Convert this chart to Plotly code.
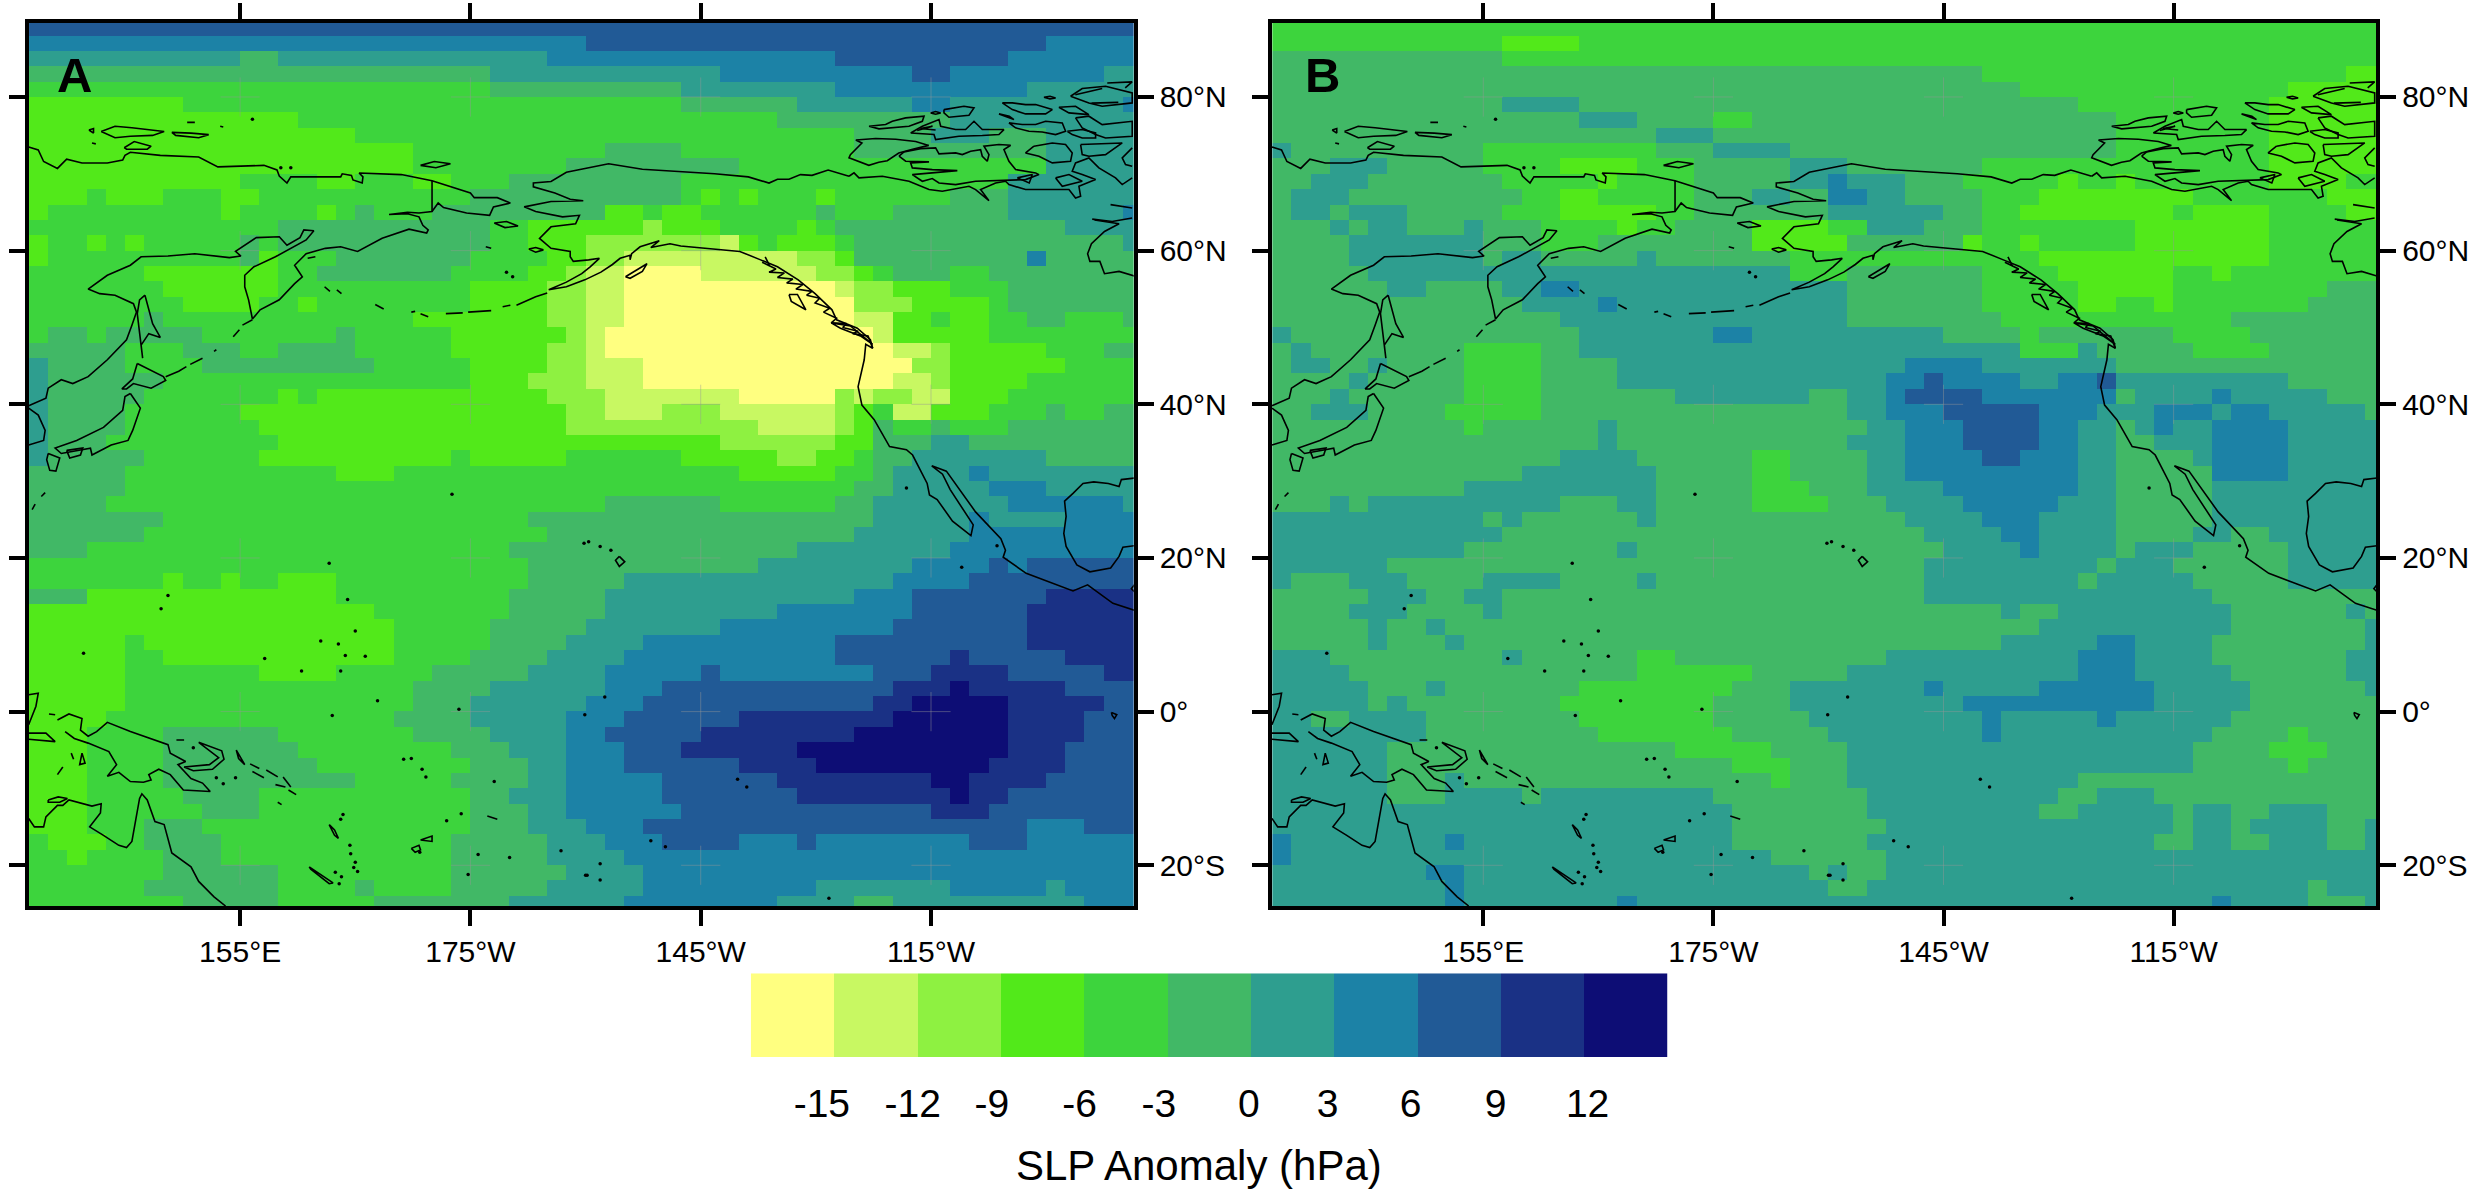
import plotly.graph_objects as go

W, H = 2469, 1197
FONT = "Liberation Sans"

# colour classes of the SLP anomaly (hPa), lowest class first
class_colors = ["#FFFF80", "#C8F862", "#8EF141", "#52E91A", "#3DD43D", "#41B866",
                "#2E9E8F", "#1C82A6", "#215A96", "#1A3185", "#0D0D75"]
class_mids = [-16.5, -13.5, -10.5, -7.5, -4.5, -1.5, 1.5, 4.5, 7.5, 10.5, 13.5]
bar_edges = [-18, -15, -12, -9, -6, -3, 0, 3, 6, 9, 12, 15]
bar_labels = ["-15", "-12", "-9", "-6", "-3", "0", "3", "6", "9", "12"]
bar_label_pos = [-15.44, -12.17, -9.32, -6.16, -3.31, -0.07, 2.77, 5.76, 8.82, 12.13]

# grid of the reanalysis: 2.5 deg lon x 2 deg lat
lon_edges = [127.5 + 2.5 * i for i in range(59)]
lat_edges = [-26 + 2 * i for i in range(59)]

lon_ticks = [155, 185, 215, 245]
lon_labels = ["155°E", "175°W", "145°W", "115°W"]
lat_ticks = [80, 60, 40, 20, 0, -20]
lat_labels = ["80°N", "60°N", "40°N", "20°N", "0°", "20°S"]

# rows from north to south, each "start column:class" run
panel_a = [
    "0:8",
    "0:7 29:8 53:7",
    "0:6 11:5 13:6 27:7 42:8 51:7",
    "0:5 24:6 36:7 46:8 48:7 56:6",
    "0:4 24:5 34:6 42:7 52:6",
    "0:3 8:4 34:5 40:6 46:7 48:6 57:7",
    "0:3 14:4 39:5 48:6",
    "0:3 17:4 43:5 47:6 50:5 53:6",
    "0:3 20:4 30:5 34:4 43:5 53:6",
    "0:3 20:4 28:5 37:4 53:6",
    "0:3 11:4 15:3 17:4 20:3 22:4 25:5 34:4 51:6",
    "0:3 3:4 4:3 7:4 10:3 12:4 23:5 34:4 35:3 36:4 37:3 38:4 41:3 42:4 48:5 51:6",
    "0:3 1:4 10:3 11:4 15:3 16:4 17:5 18:4 21:5 30:3 32:4 33:3 35:4 41:5 42:4 45:5 51:6 57:7",
    "0:4 13:5 24:4 26:3 32:2 33:3 36:4 40:3 41:4 42:5 54:6",
    "0:3 1:4 3:3 4:4 5:3 6:4 11:5 12:4 13:5 24:4 26:3 29:2 36:1 37:3 38:4 39:3 42:4 43:5 57:6",
    "0:3 1:4 11:5 12:3 13:4 16:5 23:4 27:3 29:2 31:1 40:2 42:3 43:5 52:7 53:5",
    "0:4 6:3 13:4 15:5 22:4 26:3 28:2 29:1 31:0 35:1 41:2 43:3 44:4 45:5 48:4 50:5",
    "0:4 7:3 13:4 23:3 27:2 29:1 31:0 42:1 43:2 45:3 48:4 51:5",
    "0:4 8:3 12:4 14:3 15:4 23:3 27:2 29:1 31:0 43:2 46:3 50:4 51:5",
    "0:4 6:5 7:4 20:3 27:2 29:1 31:0 43:1 45:3 47:4 48:3 50:4 52:5 54:4 57:5",
    "0:4 1:5 3:4 4:5 9:4 16:5 17:4 22:3 28:2 29:1 30:0 44:1 45:3 50:4",
    "0:5 5:4 8:5 11:4 13:5 17:4 22:3 27:2 29:1 30:0 45:1 47:2 48:3 53:4 56:5",
    "0:6 1:5 5:4 9:5 18:4 23:3 27:2 29:1 32:0 46:2 48:3 54:4",
    "0:6 1:5 7:4 23:3 26:2 29:1 32:0 45:1 47:2 48:3 52:4",
    "0:6 1:5 6:4 13:3 14:4 15:3 27:2 30:1 37:0 42:2 43:1 44:2 46:1 48:3 51:4",
    "0:6 1:5 5:4 11:3 28:2 30:1 33:2 36:1 42:2 43:3 44:4 45:1 47:3 50:4 53:5 54:4 56:5",
    "0:6 1:5 5:4 12:3 28:2 38:1 42:2 43:3 44:5 45:4 47:5 48:4 51:5",
    "0:6 1:5 4:4 13:3 36:2 42:3 44:5 47:6 49:5",
    "0:6 1:5 6:4 12:3 22:4 23:3 28:4 34:3 39:2 41:3 43:4 44:5 46:6 53:5",
    "0:5 5:4 16:3 19:4 37:3 42:4 44:5 45:6 49:7 50:6",
    "0:5 5:4 43:5 45:6 50:7 53:6",
    "0:5 4:4 30:5 36:4 42:5 44:6 51:7 57:6",
    "0:5 7:4 26:5 44:6 49:7 50:6 54:7",
    "0:5 6:4 27:5 43:6 49:7",
    "0:5 3:4 25:5 40:6 48:7",
    "0:4 26:5 38:6 46:7 50:8 51:7 52:8",
    "0:4 7:3 8:4 10:3 11:4 13:3 16:4 26:5 31:6 45:7 49:8",
    "0:5 3:3 16:4 25:5 30:6 43:7 46:8 53:9",
    "0:3 18:4 25:5 30:6 39:7 46:8 52:9",
    "0:3 19:4 24:5 29:6 36:7 45:8 52:9",
    "0:3 5:4 6:3 19:4 24:5 28:6 32:7 42:8 52:9",
    "0:3 5:4 7:3 19:4 23:5 27:6 31:7 42:8 48:9 49:8 54:9",
    "0:3 5:4 12:3 16:4 21:5 26:6 30:7 35:8 36:7 44:8 47:9 51:8 56:9",
    "0:3 5:4 20:5 24:6 30:7 33:8 45:9 48:10 49:9 54:8",
    "0:3 5:4 20:5 23:6 29:7 32:8 44:9 46:10 51:9 56:8",
    "0:3 4:4 19:5 23:6 28:7 31:8 37:9 45:10 51:9 55:8",
    "0:3 3:4 7:5 13:4 20:5 24:6 28:7 30:8 35:9 43:10 51:9 55:8",
    "0:3 3:4 7:5 14:4 22:5 25:6 28:7 31:8 34:9 40:10 51:9 54:8",
    "0:3 3:4 7:5 15:4 23:5 26:6 28:7 31:8 37:9 41:10 50:9 54:8",
    "0:3 3:4 7:5 17:4 22:5 26:6 28:7 33:8 39:9 47:10 49:9 53:8",
    "0:3 3:4 8:5 12:4 23:5 25:6 28:7 33:8 40:9 48:10 49:9 51:8",
    "0:3 3:4 9:5 12:4 23:5 26:6 28:7 34:8 47:9 50:8",
    "0:3 3:4 6:5 9:4 23:5 26:6 29:7 32:8 52:7 55:8",
    "0:4 1:3 4:4 6:5 10:4 22:5 27:6 30:7 33:8 37:7 40:8 41:7 49:8 52:7",
    "0:4 2:3 3:4 7:5 10:4 22:5 27:6 31:7",
    "0:4 7:5 13:4 22:5 28:6 32:7",
    "0:4 6:5 13:4 17:5 18:4 22:5 27:6 32:7 41:6 48:7 53:6 54:7",
    "0:4 8:5 13:4 18:5 25:6 31:7 39:6 43:5 45:6 55:7",
]

panel_b = [
    "0:4",
    "0:4 12:3 16:4",
    "0:5 12:4",
    "0:5 37:4 56:3",
    "0:5 39:4 53:3",
    "0:5 12:6 16:5 42:4 52:3",
    "0:5 16:6 19:5 23:4 25:5 44:4 52:3",
    "0:5 20:6 23:5 44:4 52:3",
    "0:6 1:5 11:4 20:5 23:6 27:5 44:4 52:3",
    "0:5 3:6 6:5 11:4 15:3 19:4 22:5 27:6 30:5 37:4 52:3",
    "0:5 2:6 5:5 12:4 17:3 18:4 22:5 27:6 29:7 30:6 33:5 36:4 41:3 42:4 44:3 45:4 52:3 56:4",
    "0:5 1:6 4:5 13:4 15:3 17:4 22:5 25:6 27:5 29:7 31:6 33:5 37:4 40:3 48:4 55:3",
    "0:5 1:6 3:5 4:6 7:5 12:4 15:3 20:4 22:5 29:6 35:5 37:4 39:3 47:4 48:3 52:4 56:3",
    "0:5 3:6 4:5 5:6 7:5 10:6 11:5 14:4 18:3 19:4 21:5 25:3 29:4 31:6 34:5 37:4 45:3 52:4",
    "0:5 4:6 11:5 14:4 17:5 25:3 30:5 36:3 37:4 39:3 40:4 45:3 52:4",
    "0:5 4:6 11:5 12:6 14:5 19:6 20:5 27:4 40:3 52:4",
    "0:5 5:6 27:4 30:5 37:4 41:3 47:4 49:3 50:4",
    "0:5 6:6 8:5 12:6 14:7 16:6 30:5 37:4 42:3 47:4 55:5",
    "0:5 13:6 17:7 18:6 30:5 37:4 42:3 44:4 46:3 47:4 54:5",
    "0:5 15:6 30:5 38:4 50:5",
    "0:6 1:5 16:6 23:7 25:6 35:5 39:4 40:5 47:4 51:5",
    "0:5 1:6 2:5 10:4 14:5 16:6 39:4 42:6 43:5 48:4 52:5",
    "0:5 1:6 3:5 5:6 6:5 10:4 14:5 18:6 33:7 37:6 44:5",
    "0:5 4:6 5:5 10:4 14:5 18:6 32:7 34:8 35:7 39:6 41:7 43:8 44:6 53:5",
    "0:5 3:6 4:5 10:4 14:5 21:6 28:5 30:6 32:7 33:8 37:7 44:5 45:6 49:7 50:6 55:5",
    "0:5 2:6 5:5 9:4 14:5 30:6 32:7 35:8 40:7 43:6 46:7 49:6 50:7 52:6 57:5",
    "0:5 10:4 11:5 17:6 18:5 31:6 33:7 36:8 40:7 42:6 44:5 45:6 46:7 47:6 49:7 53:6",
    "0:5 17:6 18:5 30:6 33:7 36:8 40:7 42:6 44:5 46:6 49:7 53:6",
    "0:5 15:6 19:5 25:4 27:5 31:6 33:7 37:8 39:7 42:6 44:5 48:6 49:7 53:6",
    "0:5 13:6 20:5 25:4 27:5 31:6 33:7 42:6 44:5 49:7 53:6",
    "0:5 10:6 20:5 25:4 28:5 31:6 35:7 42:6 44:5 49:6",
    "0:5 3:6 4:5 5:6 15:5 18:6 20:5 25:4 29:5 32:6 36:7 41:6 44:5 49:6",
    "0:6 11:5 12:6 13:5 19:6 20:5 33:6 37:7 40:6 44:5 49:6",
    "0:6 12:5 34:6 38:7 40:6 44:5 48:6 50:5 52:6",
    "0:6 10:5 18:6 19:5 35:6 39:7 40:6 44:5 45:6 48:5 53:6",
    "0:6 6:5 34:6 43:5 44:6 47:5 53:6",
    "0:6 1:5 4:6 7:5 11:6 15:5 19:6 20:5 34:6 42:5 43:6 48:5 53:6",
    "0:5 5:6 8:5 10:6 12:5 34:6 49:5",
    "0:5 4:6 7:5 11:6 12:5 38:6 39:5 41:6 50:5 56:6 57:5",
    "0:5 5:6 6:5 8:6 9:5 40:6 50:5 57:6",
    "0:5 5:6 6:5 9:6 10:5 38:6 43:7 45:6 49:5 57:6",
    "0:6 3:5 12:6 13:5 19:4 21:5 32:6 42:7 45:6 49:5 56:6",
    "0:6 4:5 19:4 25:5 30:6 42:7 45:6 50:5 56:6",
    "0:6 5:5 8:6 9:5 16:4 24:5 27:6 34:7 35:6 40:7 46:6 51:5 57:6",
    "0:6 5:5 6:6 7:5 15:4 23:5 27:6 36:7 46:6 51:5",
    "0:6 2:5 4:6 8:5 16:4 23:5 28:6 37:7 38:6 43:7 44:6 50:5",
    "0:6 8:5 17:4 24:5 29:6 37:7 38:6 49:5 53:4 54:5",
    "0:6 6:5 21:4 26:5 30:6 48:5 52:4 55:5",
    "0:6 6:5 24:4 27:5 30:6 48:5 53:4 54:5",
    "0:6 6:5 9:6 10:5 26:4 27:5 30:6 42:5",
    "0:6 6:5 9:6 13:5 14:6 23:5 31:6 41:5 43:6 46:5",
    "0:6 24:5 31:6 40:5 42:6 47:5 48:6 50:5 52:6 55:5",
    "0:6 24:5 32:6 47:5 48:6 50:5 51:6 55:5 57:6",
    "0:7 1:6 9:7 10:6 24:5 31:6 46:5 48:6 50:5 52:6 55:5 57:6",
    "0:7 1:6 26:5 32:6",
    "0:6 8:7 10:6 28:5 29:6 30:5 32:6",
    "0:6 9:7 10:6 29:5 31:6 54:5 55:6",
    "0:6 9:7 10:6 18:7 19:6 49:7 50:6 54:5 57:6",
]

# coastlines, (lon, lat) with lon in 0-360
siberia = [(127.45, 73.5), (128.7, 73.1), (129.4, 71.6), (131.2, 70.7), (132.4, 71.9), (134.4, 71.4),
           (137.7, 71.4), (139.7, 71.8), (140, 72.4), (140.7, 72.8), (144.6, 72.4), (149.6, 72.2),
           (152.1, 70.9), (158.1, 71.1), (159.8, 70.5), (160.1, 69.7), (161.1, 68.8), (161.6, 69.6),
           (168.1, 69.6), (168.3, 70), (169.5, 69.8), (169.7, 69.2), (170.9, 68.8), (171, 69.6),
           (170.5, 70.1), (176, 69.9), (180, 69.1), (185, 67.5), (185.5, 66.9), (188.5, 66.9),
           (190.2, 66.2), (188, 65.7), (187.5, 64.6), (184.5, 64.9), (181.5, 65.6), (180.8, 66.2),
           (180, 65.1), (178.3, 64.9), (176.8, 65), (174.4, 64.7), (176.8, 64.8), (178.3, 64.4),
           (178.8, 63.3), (179.5, 62.7), (179.3, 62.3), (177, 62.8), (173.5, 61.6), (170.3, 59.9),
           (168.1, 60.5), (166.1, 60.3), (163.6, 59.6), (162.1, 58.1), (163.1, 56.6), (162.1, 55.7),
           (160.1, 53.6), (157.6, 52.3), (156.6, 51.1), (156.1, 53.6), (155.6, 55.3), (155.6, 56.8),
           (156.8, 57.9), (159.6, 59.2), (163.6, 61.4), (164.6, 62.6), (163.3, 62.7), (162.8, 61.7),
           (161.1, 60.7), (160.1, 61.8), (157.1, 61.7), (154.4, 59.9), (155.1, 59.3), (153.6, 59.1),
           (149.1, 59.6), (145.6, 59.3), (142.1, 59.2), (140.7, 58.1), (137.7, 56.8), (135.2, 55),
           (136.7, 54.4), (138.7, 54.2), (141.1, 53.1), (141.5, 52), (140.9, 50.3), (140.2, 48.4),
           (137.7, 45.8), (135.2, 43.6), (133.2, 42.7), (131.7, 43.2), (130, 42.1), (129.7, 40.8),
           (127.45, 39.8)]
dateline_seam = [(180, 69.1), (180, 65.1)]
korea = [(127.45, 39.5), (128.7, 38.6), (129.6, 36.6), (129.4, 35.3), (127.45, 34.7)]
sakhalin = [(142.6, 54.2), (143.1, 52.3), (143.6, 50.5), (144.6, 48.7), (143.1, 49.2), (142.1, 47.7),
            (142.3, 46), (141.9, 48.6), (141.6, 51.8), (141.9, 53.6), (142.6, 54.2)]
hokkaido = [(141.6, 45.3), (145, 43.6), (145.3, 43.1), (143.4, 42.1), (141.1, 42.7), (140.2, 42),
            (139.6, 42), (141, 43.3), (141.6, 45.3)]
honshu = [(140.7, 41.4), (142, 39.5), (141, 36.6), (140.4, 35.3), (138.2, 34.7), (135.7, 33.4),
          (135.5, 34.3), (131.7, 33.6), (130.9, 34.3), (133.7, 35.3), (137.2, 37), (139.7, 39.2),
          (140, 41), (140.7, 41.4)]
kyushu = [(130, 33.6), (131.5, 33), (131, 31.3), (130.2, 31.4), (129.8, 32.8), (130, 33.6)]
shikoku = [(132.4, 34), (134.5, 34.3), (134.2, 33.4), (132.8, 33), (132.4, 34)]
ryukyu = [[(129.6, 28.5), (129.1, 28)], [(128.3, 27), (127.9, 26.3)]]
kurils = [[(145.3, 43.6), (147, 44.3), (148, 44.9)], [(148.5, 45.2), (150.1, 46)], [(151.6, 46.9), (151.9, 47.1)],
          [(154.1, 48.8), (154.9, 49.7)], [(155.3, 50.3), (156.6, 51)]]
new_siberian = [[(136.9, 75.5), (138.7, 76.2), (140.9, 76), (145.1, 75.5), (143.6, 75), (140.7, 74.9),
                 (138.7, 74.7), (136.9, 75.5)],
                [(146.1, 75.4), (148.6, 75.3), (150.9, 75.1), (149.6, 74.7), (146.6, 75), (146.1, 75.4)],
                [(139.9, 73.4), (141.2, 74.2), (143.4, 73.6), (142.9, 73.2), (140.2, 73.2), (139.9, 73.4)],
                [(135.3, 75.7), (135.9, 75.9), (135.9, 75.3), (135.3, 75.7)], [(135.7, 74), (136.2, 73.9)],
                [(148.1, 76.7), (149.1, 76.7)], [(152.4, 76.2), (152.8, 76.1)]]
wrangel = [(178.5, 71.1), (180.3, 71.6), (182.4, 71.3), (180.5, 70.8), (178.5, 71.1)]
st_lawrence = [(188.1, 63.6), (189.7, 63.8), (191.2, 63.2), (189.5, 63), (188.1, 63.6)]
nunivak = [(192.6, 60.2), (193.5, 60.4), (194.5, 60.1), (193.5, 59.8), (192.6, 60.2)]
bering_bits = [[(187, 60.5), (187.7, 60.3)], [(166, 55.3), (166.7, 54.7)], [(167.6, 54.9), (168.2, 54.4)],
               [(172.6, 53), (173.7, 52.4)], [(177.3, 52), (177.8, 52.1)], [(178.5, 51.8), (179.5, 51.4)],
               [(181.8, 51.8), (184, 51.9)], [(184.7, 52), (187.7, 52.2)], [(189.2, 52.7), (190.2, 52.9)],
               [(191, 52.9), (193.5, 54), (195, 54.5)], [(163.8, 59), (164.8, 59.2)]]
north_america = [(234.32, 69.68), (231.6, 70.5), (229.5, 69.8), (228, 69.9), (226.5, 69.3),
                 (225, 69.3), (223.9, 68.8), (221.2, 69.6), (216.8, 70), (207.4, 70.6), (203, 71.3),
                 (199.2, 70.5), (197.5, 70.2), (195.5, 69), (193.2, 68.8), (193.2, 68.3), (196, 67.5),
                 (198, 66.7), (199.7, 66.5), (195.5, 66.4), (192, 65.7), (193.5, 65.1), (197, 64.4),
                 (199.2, 64.6), (198.7, 63.5), (195.5, 63.1), (194, 61.6), (195.5, 60.3), (198, 59.9),
                 (198, 59.2), (198.4, 58.6), (200.4, 58.8), (201.8, 59), (200.6, 57.9), (199.5, 57),
                 (197.5, 55.9), (195.2, 54.9), (197.5, 55.3), (199.9, 56.2), (202, 57.2), (203.5, 58.2),
                 (204.5, 59), (205.8, 59.4), (205.8, 58.8), (206, 59.6), (207.1, 60.5), (209.6, 61.3),
                 (208.5, 60.4), (211, 60.9), (212.4, 60.6), (215.4, 60.3), (220.1, 59.9), (222.8, 58.8),
                 (225, 57.9), (227.7, 56.2), (229.9, 54.4), (232.1, 52.3), (232.7, 51), (235.4, 49.9),
                 (237.1, 48.4), (237.4, 47.3), (236.5, 47.8), (236.3, 45.8), (235.5, 42.3), (236, 39.9),
                 (237.6, 38), (239.6, 34.5), (241.8, 34.1), (242.6, 33.4), (244.5, 29.7), (244.8, 28.2),
                 (245.8, 27.6), (247.8, 24.8), (250.2, 22.9), (250.5, 24.3), (247.5, 28.9), (246.5, 30.9),
                 (245.1, 32), (247, 31.3), (250.8, 26), (254.1, 22.5), (254.7, 21), (254.4, 20.1),
                 (257.4, 18), (263.5, 15.7), (265.4, 16.5), (268.7, 14.1), (271.5, 13.2)]
inside_passage = [(223.4, 59.2), (224, 58), (223, 58.5), (224.8, 57.6), (223.9, 57.2), (225.9, 57.1),
                  (225, 56.5), (227, 56.3), (226.2, 55.8), (228.3, 55.6), (227.4, 55), (229.5, 54.7),
                  (228.8, 54.2), (230.5, 53.8), (229.9, 53.2), (231.8, 52.5), (231, 52), (232.7, 51.2),
                  (232, 50.6), (234, 50.5), (233.5, 50), (235.5, 49.5), (234.8, 49.2), (236.8, 48.9),
                  (237.4, 47.3)]
vancouver = [(232, 50.6), (234.5, 50.2), (237.4, 47.8), (235.8, 48.9), (233.2, 49.9), (232, 50.6)]
haida_gwaii = [(226.5, 54.3), (227.6, 54.3), (228.7, 52.3), (226.8, 53.4), (226.5, 54.3)]
kodiak = [(205.2, 56.6), (208, 58.3), (207.4, 57.3), (205.8, 56.4), (205.2, 56.6)]
hudson_north = [(271.2, 64.26), (268.6, 63.8), (266, 64.1)]
hudson_west = [(266.3, 64), (269.5, 63.5), (267.6, 62.5), (265.9, 60.9), (265.4, 59.6), (265.7, 58.6),
               (267, 58.6), (267.6, 57), (269.5, 57.3), (271.5, 56.7)]
arctic_main = [(234.32, 69.68), (234.97, 70.12), (235.62, 69.47), (238.66, 69.68), (242.13, 69.03), (244.74, 67.95),
               (246.47, 67.73), (249.95, 68.38), (250.81, 67.95), (252.55, 66.51), (251.46, 67.95), (253.42, 68.81),
               (254.72, 69.03), (255.15, 68.6), (257.32, 67.95), (261.23, 67.95), (262.97, 67.95), (263.83, 66.86),
               (264.49, 67.08), (264.27, 68.38), (266.44, 69.25), (264.7, 69.9), (263.4, 70.33), (263.83, 71.42),
               (265.57, 72.07), (266.87, 70.77), (269.04, 69.47), (269.91, 68.6), (271.21, 69.47)]
arctic_isles = [[(235.2, 74.4), (236, 74), (234.5, 72.5), (234.32, 72.1), (236.9, 71.1), (238.2, 71.5), (239.3, 71.7),
                 (240.8, 72.7), (242.6, 73.2), (244.7, 73.7), (243, 74.2), (240.4, 74.5), (237.8, 74.6), (235.2, 74.4)],
                [(240.83, 72.29), (241.48, 72.85), (243.65, 73.28), (245.6, 73.37), (246.04, 72.59), (248.21, 72.72),
                 (249.08, 72.5), (250.16, 72.94), (251.46, 73.15), (251.68, 72.29), (252.33, 71.64), (252.55, 72.5),
                 (251.9, 73.59), (253.85, 73.81), (255.37, 73.72), (254.5, 73.15), (255.15, 71.64), (256.02, 70.55),
                 (258.63, 70.12), (259.06, 69.9), (257.32, 69.25), (253.42, 69.12), (250.81, 69.03), (248.21, 68.6),
                 (246.04, 68.81), (245.17, 69.38), (243.87, 69.03), (242.57, 69.9), (248.43, 70.42), (245.17, 70.55),
                 (242.57, 70.77), (242.35, 71.42), (244.74, 71.55), (241.7, 71.64), (240.83, 72.29)],
                [(236.92, 76.19), (239.09, 76.41), (239.96, 76.84), (241.7, 77.28), (244.09, 77.5), (243.87, 76.84),
                 (242.13, 76.19), (239.96, 75.98), (238.23, 75.85), (236.92, 76.19)],
                [(242.35, 75.32), (243.87, 76.19), (246.04, 77.06), (246.26, 76.19), (248.21, 75.76), (249.51, 75.76),
                 (250.6, 76.84), (251.68, 75.76), (254.5, 75.76), (253.85, 75.11), (251.68, 74.98), (248.64, 74.89),
                 (245.6, 74.46), (245.39, 75.11), (242.35, 75.32)],
                [(243.2, 75.63), (245.2, 76.19), (243.6, 75.9), (245.6, 75.7)],
                [(246.69, 78.36), (249.29, 78.8), (250.6, 78.58), (249.95, 77.62), (247.34, 77.36), (246.69, 77.93),
                 (246.69, 78.36)],
                [(244.95, 77.93), (245.6, 78.1), (246.26, 77.93), (245.6, 77.75), (244.95, 77.93)],
                [(254.29, 79.23), (255.59, 79.23), (257.32, 79.01), (258.63, 79.01), (260.8, 78.36), (259.93, 77.8),
                 (257.32, 77.8), (255.59, 78.36), (254.29, 79.23)],
                [(259.71, 79.97), (260.5, 80.1), (261.23, 79.88), (260.5, 79.75), (259.71, 79.97)],
                [(253.85, 77.8), (255.8, 77.06), (255.2, 77.5), (253.85, 77.8)],
                [(261.66, 78.67), (263.83, 78.8), (265.57, 77.71), (262.97, 77.93), (261.66, 78.67)],
                [(263.18, 80.1), (264.7, 81.1), (267.74, 81.4), (271.21, 80.53), (271.21, 79.23), (267.3, 78.8),
                 (265.57, 79.23), (263.18, 80.1)],
                [(263.8, 80.3), (267.3, 81.1)], [(265.9, 79.2), (269.4, 79.3)], [(267.96, 81.83), (271.2, 81.97), (270.3, 81.18)],
                [(263.83, 77.28), (265.57, 77.5), (267.3, 76.41), (271.21, 76.84), (271.21, 74.89), (267.74, 74.67),
                 (266.44, 75.11), (264.7, 75.98), (263.83, 77.28)],
                [(255.15, 76.63), (256.89, 76.41), (258.63, 76.41), (259.93, 76.84), (262.1, 76.63), (262.53, 75.54),
                 (261.23, 75.11), (259.49, 75.45), (257.76, 75.54), (256.02, 75.98), (255.15, 76.63)],
                [(262.75, 75.54), (264.7, 75.76), (266.44, 75.32), (266.44, 74.67), (264.7, 74.67), (263.4, 75.11),
                 (262.75, 75.54)],
                [(258.41, 73.59), (260.8, 74.02), (262.53, 73.81), (263.4, 72.72), (263.18, 71.64), (260.8, 71.42),
                 (259.06, 72.29), (257.32, 72.72), (258.41, 73.59)],
                [(264.49, 73.81), (269.91, 74.02), (267.74, 72.5), (265.57, 72.29), (264.7, 72.5), (264.49, 73.81)],
                [(271.21, 73.37), (269.91, 72.07), (270.34, 71.2), (271.21, 70.98)],
                [(261.23, 69.47), (262.97, 69.9), (264.7, 69.03), (262.1, 68.38), (261.23, 69.47)],
                [(256.24, 69.47), (258.2, 69.9), (257.8, 68.8), (256.24, 69.47)],
                [(268.39, 65.99), (271.21, 65.56)]]
gulf_of_mexico = [(271.5, 30.4), (269.8, 30.2), (269.5, 29.3), (268.1, 29.7), (266.2, 29.9), (264.8, 29.7),
                  (263.5, 28.4), (262.4, 27.4), (262.6, 25.4), (262.3, 23.2), (262.6, 21.5), (264, 19.1),
                  (265.7, 18.2), (268.4, 18.7), (269.5, 20.2), (270, 21.4), (271.5, 21.6)]
belize = [(271.5, 16.5), (271.1, 16), (271.5, 15.6)]
hawaii = [(204.4, 20.2), (205.1, 19.5), (204.4, 18.9), (203.9, 19.7), (204.4, 20.2)]
new_guinea = [(131.2, -1.1), (132.7, -0.3), (134.4, -0.9), (134.2, -2.4), (135.2, -3.2), (136.3, -2.6),
              (137.7, -1.4), (140.7, -2.6), (145.6, -4.3), (145.9, -5.4), (147.9, -6.5), (146.9, -6.9),
              (148.6, -8.7), (150.1, -9.3), (151.1, -10.4), (147.6, -10.2), (145.9, -8.2), (144.4, -7.5),
              (143.1, -8.2), (143.4, -8.9), (142.4, -9.2), (140.7, -9.1), (139.2, -7.9), (137.7, -8.4),
              (138.9, -6.9), (137.9, -5.2), (135.2, -4.1), (133.4, -3.5), (132.2, -2.6)]
new_britain = [(149.6, -4), (152.6, -5.1), (152.9, -6.2), (151.4, -7.5), (148.9, -7.7), (147.7, -7.2),
               (151, -6.9), (152.2, -6), (149.6, -4)]
new_ireland = [(146.7, -3.7), (147.7, -3.7)]
solomons = [[(154.5, -5), (155.6, -6.9), (154.8, -6.1), (154.5, -5)], [(156.3, -6.8), (157.5, -7.4)],
            [(156.6, -7.8), (158.1, -8.6)], [(158.4, -7.6), (159.9, -8.5)], [(160.6, -8.5), (161.6, -9.8)],
            [(159.6, -9.5), (160.9, -9.8)], [(161.3, -10.2), (162.3, -10.8)], [(159.9, -11.8), (160.4, -12.1)]]
vanuatu = [(166.6, -14.7), (167.3, -15.4), (167.8, -16.5), (167.3, -16.1), (166.6, -14.7)]
new_caledonia = [(164, -20.2), (167.1, -22.3), (166.6, -22.4), (164.2, -20.5), (164, -20.2)]
fiji = [[(177.3, -17.8), (178.3, -17.4), (178.5, -18), (177.8, -18.3), (177.3, -17.8)],
        [(178.5, -16.7), (180, -16.2), (180, -16.9), (178.5, -16.7)]]
samoa = [(187.2, -13.6), (188.5, -14)]
australia = [(153.1, -25.3), (151.6, -24.1), (149.6, -22.1), (148.6, -20.2), (146.1, -18.4), (145.1, -14.7),
             (143.9, -14.3), (142.9, -11.5), (142.2, -10.7), (141.9, -11.3), (141.4, -14.1), (140.9, -16.9),
             (140.2, -17.7), (139.2, -17.4), (137.2, -16.1), (135.4, -15), (136.8, -13.2), (136.9, -12),
             (135.7, -12.3), (132.7, -11.5), (131.9, -12.2), (131.2, -12.2), (129.7, -13.7), (129.4, -15),
             (128.2, -15), (127.45, -13.9)]
melville = [(130, -11.5), (131.3, -11.1), (132.5, -11.3), (131.5, -11.8), (130, -11.8), (130, -11.5)]
indonesia = [[(127.45, 2.2), (128.7, 2.4), (128.4, 0.7), (127.9, -0.6), (127.45, -1.7)],
             [(127.45, -2.8), (129.7, -2.8), (130.9, -3.9), (128.2, -3.6), (127.45, -3.6)],
             [(134.4, -5.4), (134.8, -6.7), (134.1, -6.9), (134.4, -5.4)], [(131.2, -8.2), (131.9, -7.2)],
             [(133, -5.4), (133.3, -6.2)], [(130.1, -0.3), (130.9, -0.4)]]
galapagos = [(268.5, -0.1), (269.2, -0.4), (268.9, -0.9), (268.6, -0.5), (268.5, -0.1)]

# small islands too small to show an outline
dot_lon = [182.6, 166.6, 145.6, 144.7, 169, 170, 165.5, 167.8, 168.7, 171.3, 158.2, 163, 168.1, 134.6, 172.9,
           167, 183.5, 176.3, 177.3, 178.7, 179.2, 188.1, 183.8, 181.9, 186, 190.1, 184.7, 196.8, 200.2, 202.5,
           199.9, 219.8, 221, 208.5, 210.4, 201.9, 200, 201.9, 231.7, 241.8, 253.6, 249, 189.7, 190.5, 160.3,
           161.6, 156.6, 200.4, 199.8, 201.9, 203.3, 168.4, 169.3, 168.1, 169.4, 170, 169.8, 170.3, 167.4,
           168.2, 167.9, 148.9, 151.9, 152.8, 154.4, 178.4]
dot_lat = [28.3, 19.3, 15.1, 13.4, 14.6, 10.5, 9.2, 8.8, 7.3, 7.2, 6.9, 5.3, 5.3, 7.6, 1.4,
           -0.5, 0.3, -6.2, -6.1, -7.5, -8.5, -9.1, -13.3, -14.2, -18.6, -19, -21.2, -18.1, -21.3, 1.9,
           -0.4, -8.8, -9.8, -16.8, -17.6, -19.8, -21.3, -21.9, -24.3, 29.1, 21.6, 18.8, 57.2, 56.6, 70.8,
           70.8, 77.1, 22.1, 21.9, 21.5, 21, -13.4, -17.4, -14, -18.5, -19.6, -20.3, -20.8, -20.9,
           -21.5, -22.4, -4.7, -8.6, -9.4, -8.6, -18.3]

coast_lines = [siberia, dateline_seam, korea, sakhalin, hokkaido, honshu, kyushu, shikoku, wrangel, st_lawrence,
               nunivak, north_america, inside_passage, vancouver, haida_gwaii, kodiak, hudson_north, hudson_west,
               arctic_main, gulf_of_mexico, belize, hawaii, new_guinea, new_britain, new_ireland, vanuatu,
               new_caledonia, samoa, australia, melville, galapagos] \
    + ryukyu + kurils + new_siberian + bering_bits + arctic_isles + solomons + fiji + indonesia


def expand_row(row):
    # "0:3 8:4" -> class of each of the 58 columns
    runs = [tuple(int(p) for p in r.split(":")) for r in row.split()]
    out = []
    for k, (start, level) in enumerate(runs):
        stop = runs[k + 1][0] if k + 1 < len(runs) else 58
        out += [class_mids[level]] * (stop - start)
    return out


coast_x, coast_y = [], []
for line in coast_lines:
    coast_x += [p[0] for p in line] + [None]
    coast_y += [p[1] for p in line] + [None]

cross_x = [lon for lon in lon_ticks for _ in lat_ticks]
cross_y = [lat for _ in lon_ticks for lat in lat_ticks]

# stepped colour scale over the eleven classes
colorscale = []
for i, c in enumerate(class_colors):
    colorscale += [[i / 11, c], [(i + 1) / 11, c]]

fig = go.Figure()

for n, rows in enumerate([panel_a, panel_b], start=1):
    xa = "x" if n == 1 else f"x{n}"
    ya = "y" if n == 1 else f"y{n}"
    z = [expand_row(r) for r in reversed(rows)]
    fig.add_trace(go.Heatmap(x=lon_edges, y=lat_edges, z=z, xaxis=xa, yaxis=ya, colorscale=colorscale,
                             zmin=-18, zmax=15, showscale=False, hoverinfo="skip"))
    fig.add_trace(go.Scatter(x=cross_x, y=cross_y, xaxis=xa, yaxis=ya, mode="markers", hoverinfo="skip",
                             marker=dict(symbol="cross-thin", size=28,
                                         line=dict(color="rgba(150,150,150,0.45)", width=1))))
    fig.add_trace(go.Scatter(x=coast_x, y=coast_y, xaxis=xa, yaxis=ya, mode="lines", hoverinfo="skip",
                             line=dict(color="black", width=1.6)))
    fig.add_trace(go.Scatter(x=dot_lon, y=dot_lat, xaxis=xa, yaxis=ya, mode="markers", hoverinfo="skip",
                             marker=dict(color="black", size=3.5)))

# colour bar drawn as its own small heatmap
fig.add_trace(go.Heatmap(x=bar_edges, y=[0, 1], z=[class_mids], xaxis="x3", yaxis="y3", colorscale=colorscale,
                         zmin=-18, zmax=15, showscale=False, hoverinfo="skip"))


def map_xaxis(x0, x1, anchor):
    return dict(domain=[x0 / W, x1 / W], range=[127.45, 271.4], anchor=anchor, tickvals=lon_ticks,
                ticktext=lon_labels, showgrid=False, zeroline=False, showline=True, linecolor="black",
                linewidth=4, mirror="allticks", ticks="outside", ticklen=16, tickwidth=4, tickcolor="black",
                tickfont=dict(family=FONT, size=30, color="black"))


def map_yaxis(anchor):
    return dict(domain=[1 - 906 / H, 1 - 22.7 / H], range=[-25.3, 89.67], anchor=anchor, side="right",
                tickvals=lat_ticks, ticktext=lat_labels, showgrid=False, zeroline=False, showline=True,
                linecolor="black", linewidth=4, mirror="allticks", ticks="outside", ticklen=16, tickwidth=4,
                tickcolor="black", tickfont=dict(family=FONT, size=30, color="black"))


fig.update_layout(
    width=W, height=H, margin=dict(l=0, r=0, t=0, b=0), paper_bgcolor="white", plot_bgcolor="white",
    showlegend=False, font=dict(family=FONT, color="black"),
    xaxis=map_xaxis(28.7, 1135.5, "y"),
    yaxis=map_yaxis("x"),
    xaxis2=map_xaxis(1274, 2380, "y2"),
    yaxis2=map_yaxis("x2"),
    xaxis3=dict(domain=[752 / W, 1670 / W], range=[-18, 15], anchor="y3", tickvals=bar_label_pos,
                ticktext=bar_labels, showgrid=False, zeroline=False, ticks="outside", ticklen=12, tickwidth=0,
                tickcolor="rgba(0,0,0,0)", tickfont=dict(family=FONT, size=39, color="black")),
    yaxis3=dict(domain=[1 - 1057 / H, 1 - 973.3 / H], range=[0, 1], anchor="x3", visible=False),
    annotations=[
        dict(text="<b>A</b>", x=74.6 / W, y=1 - 74.6 / H, xref="paper", yref="paper", showarrow=False,
             xanchor="center", yanchor="middle", font=dict(family=FONT, size=49, color="black")),
        dict(text="<b>B</b>", x=1324.5 / W, y=1 - 75.5 / H, xref="paper", yref="paper", showarrow=False,
             xanchor="center", yanchor="middle", font=dict(family=FONT, size=49, color="black")),
        dict(text="SLP Anomaly (hPa)", x=1201 / W, y=1 - 1165 / H, xref="paper", yref="paper", showarrow=False,
             xanchor="center", yanchor="middle", font=dict(family=FONT, size=42, color="black")),
    ],
)

# the page's default body margin would push the figure 8 px off
fig.write_html("out.html", config={"displayModeBar": False},
               post_script="document.body.style.margin='0';")
